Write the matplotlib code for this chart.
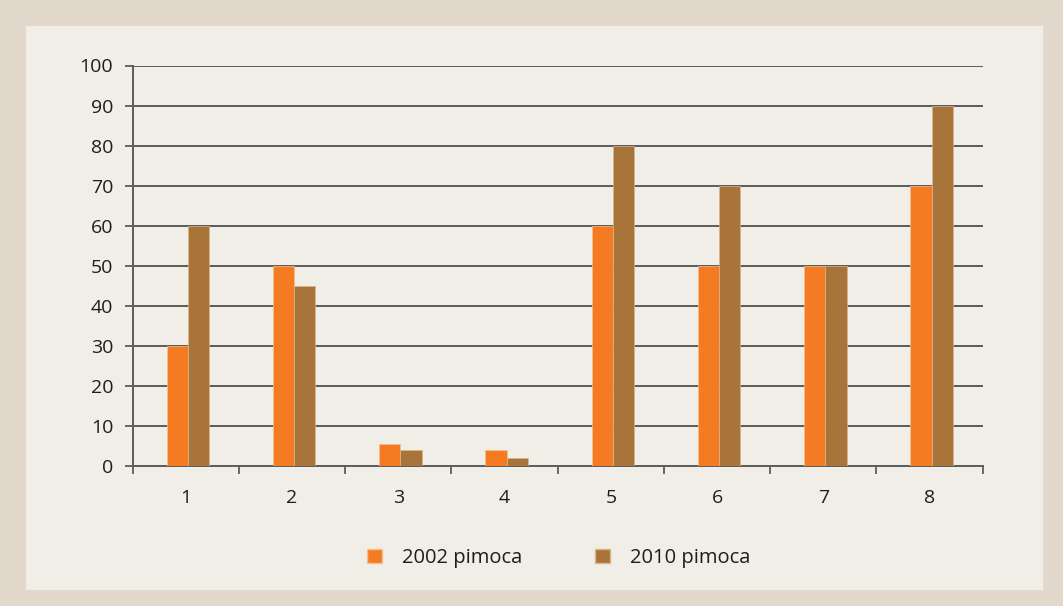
import matplotlib
matplotlib.use('Agg')
from matplotlib import pyplot as plt
from matplotlib.patches import Rectangle, Patch
import numpy as np

categories = ['1', '2', '3', '4', '5', '6', '7', '8']
series_2002 = [30, 50, 5.5, 4, 60, 50, 50, 70]
series_2010 = [60, 45, 4, 2, 80, 70, 50, 90]
series_names = ['2002 pimoca', '2010 pimoca']
y_ticks = [0, 10, 20, 30, 40, 50, 60, 70, 80, 90, 100]

orange = '#F47B22'
brown = '#A8743A'
grid_col = '#5c5c5c'

plt.rcParams['font.family'] = ['Open Sans', 'DejaVu Sans']

fig = plt.figure(figsize=(10.63, 6.06), dpi=100)
fig.patch.set_facecolor('#E2D9CC')
# inner light panel
fig.patches.append(Rectangle((26 / 1063, 1 - 590 / 606), (1043 - 26) / 1063, (590 - 26) / 606,
                             transform=fig.transFigure, facecolor='#F1EDE7', edgecolor='none', zorder=-5))

ax = fig.add_axes([132.7 / 1063, 1 - 465.7 / 606, 850 / 1063, 400.2 / 606])
ax.set_facecolor('none')
ax.set_zorder(2)

x = np.arange(1, len(categories) + 1)
w = 0.2
ax.bar(x - w / 2 + 0.02, series_2002, w, color=orange, edgecolor='#F7C08F', linewidth=0.5, zorder=3)
ax.bar(x + w / 2 + 0.02, series_2010, w, color=brown, edgecolor='#D9B68A', linewidth=0.5, zorder=3)

ax.set_xlim(0.5, len(categories) + 0.5)
ax.set_ylim(0, 100)
ax.set_yticks(y_ticks)
ax.set_xticks(x)
ax.set_xticklabels(categories)
ax.set_xticks(np.arange(0.5, len(categories) + 1), minor=True)
ax.tick_params(axis='x', which='major', length=0, labelsize=14, pad=17, colors='#1e1e1e')
ax.tick_params(axis='x', which='minor', length=6, width=1.3, color=grid_col, direction='out')
ax.tick_params(axis='y', length=6, width=1.3, color=grid_col, labelsize=14, pad=8, labelcolor='#1e1e1e')

ax.yaxis.grid(True, color=grid_col, linewidth=1.4, zorder=1)
ax.set_axisbelow(True)
for s in ['top', 'right']:
    ax.spines[s].set_visible(False)
for s in ['left', 'bottom']:
    ax.spines[s].set_color(grid_col)
    ax.spines[s].set_linewidth(1.4)

handles = [Patch(facecolor=orange, edgecolor='#F7C08F'), Patch(facecolor=brown, edgecolor='#D9B68A')]
leg = fig.legend(handles, series_names, loc='center', bbox_to_anchor=(558.5 / 1063, 1 - 558 / 606), ncol=2,
                 frameon=False, fontsize=14.5, handlelength=0.75, handleheight=0.75, handletextpad=1.0,
                 columnspacing=3.6)
for t in leg.get_texts():
    t.set_color('#1e1e1e')

fig.savefig('out.png', dpi=100, facecolor=fig.get_facecolor())
